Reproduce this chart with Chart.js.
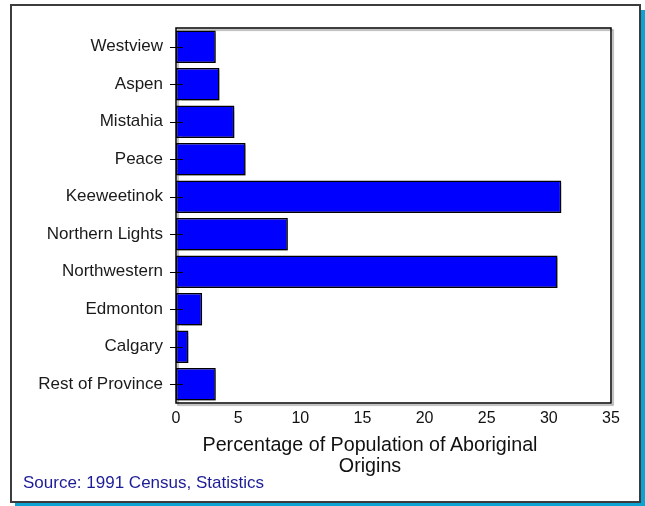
<!DOCTYPE html>
<html>
<head>
<meta charset="utf-8">
<script src="https://cdn.jsdelivr.net/npm/chart.js@4.4.1/dist/chart.umd.min.js"></script>
<style>
  html, body { margin: 0; padding: 0; background: #fff; }
  body { width: 645px; height: 506px; position: relative; overflow: hidden; font-family: "Liberation Sans", Arial, sans-serif; }
  #frame {
    position: absolute; left: 10px; top: 4px; width: 631px; height: 499px;
    box-sizing: border-box; border: 2px solid #3c3c3c; background: #fff;
    box-shadow: 5px 6px 0 #0aa3d4;
  }
  #chart { position: absolute; left: 0; top: 0; }
  #xtitle {
    position: absolute; left: 170px; width: 400px; top: 434px;
    text-align: center; font-size: 19.7px; line-height: 21px; color: #111;
  }
  #source {
    position: absolute; left: 23px; top: 473px;
    font-size: 17px; line-height: 20px; color: #1c1c96;
  }
</style>
</head>
<body>
<div id="frame"></div>
<canvas id="chart" width="645" height="506"></canvas>
<div id="xtitle">Percentage of Population of Aboriginal<br>Origins</div>
<div id="source">Source: 1991 Census, Statistics</div>
<script>
// Regions and share of population with aboriginal origins (%)
const regions = ['Westview', 'Aspen', 'Mistahia', 'Peace', 'Keeweetinok',
  'Northern Lights', 'Northwestern', 'Edmonton', 'Calgary', 'Rest of Province'];
const aboriginalPct = [3.2, 3.5, 4.7, 5.6, 31.0, 9.0, 30.7, 2.1, 1.0, 3.2];
const xMin = 0;
const xMax = 35;
const xStep = 5;

// shadow + frame round the plot area
const plotFrame = {
  id: 'plotFrame',
  beforeDatasetsDraw(chart) {
    const { ctx, chartArea: a } = chart;
    ctx.save();
    ctx.shadowColor = 'rgba(0,0,0,0.35)';
    ctx.shadowOffsetX = 2;
    ctx.shadowOffsetY = 2;
    ctx.shadowBlur = 1;
    ctx.strokeStyle = '#000';
    ctx.lineWidth = 1.5;
    ctx.strokeRect(a.left, a.top, a.right - a.left, a.bottom - a.top);
    ctx.restore();
    ctx.save();
    ctx.shadowColor = 'rgba(0,0,0,0.35)';
    ctx.shadowOffsetX = 2;
    ctx.shadowOffsetY = 2;
    ctx.shadowBlur = 1;
  },
  afterDatasetsDraw(chart) {
    const { ctx } = chart;
    ctx.restore();
    // tick marks crossing the y axis
    const y = chart.scales.y;
    ctx.save();
    ctx.strokeStyle = '#000';
    ctx.lineWidth = 1;
    y.ticks.forEach((t, i) => {
      const py = Math.round(y.getPixelForTick(i)) + 0.5;
      ctx.beginPath();
      ctx.moveTo(y.right - 6, py);
      ctx.lineTo(y.right + 7, py);
      ctx.stroke();
    });
    ctx.restore();
  }
};

new Chart(document.getElementById('chart'), {
  type: 'bar',
  data: {
    labels: regions,
    datasets: [{
      data: aboriginalPct,
      backgroundColor: '#0000ff',
      borderColor: '#000',
      borderWidth: 1.5,
      borderSkipped: false,
      barPercentage: 0.87,
      categoryPercentage: 1.0
    }]
  },
  options: {
    indexAxis: 'y',
    responsive: false,
    animation: false,
    layout: { padding: { left: 0, top: 28, right: 34, bottom: 0 } },
    plugins: {
      legend: { display: false },
      tooltip: { enabled: false }
    },
    scales: {
      x: {
        min: xMin,
        max: xMax,
        grid: { display: false, drawTicks: false },
        border: { display: false },
        ticks: {
          stepSize: xStep,
          padding: 6,
          maxRotation: 0,
          color: '#111',
          font: { family: '"Liberation Sans", Arial, sans-serif', size: 16 }
        },
        afterFit(scale) { scale.height = 103; }
      },
      y: {
        grid: { display: false, drawTicks: false },
        border: { display: false },
        ticks: {
          padding: 13,
          color: '#1a1a1a',
          font: { family: '"Liberation Sans", Arial, sans-serif', size: 17 }
        },
        afterFit(scale) { scale.width = 176; }
      }
    }
  },
  plugins: [plotFrame]
});
</script>
</body>
</html>
